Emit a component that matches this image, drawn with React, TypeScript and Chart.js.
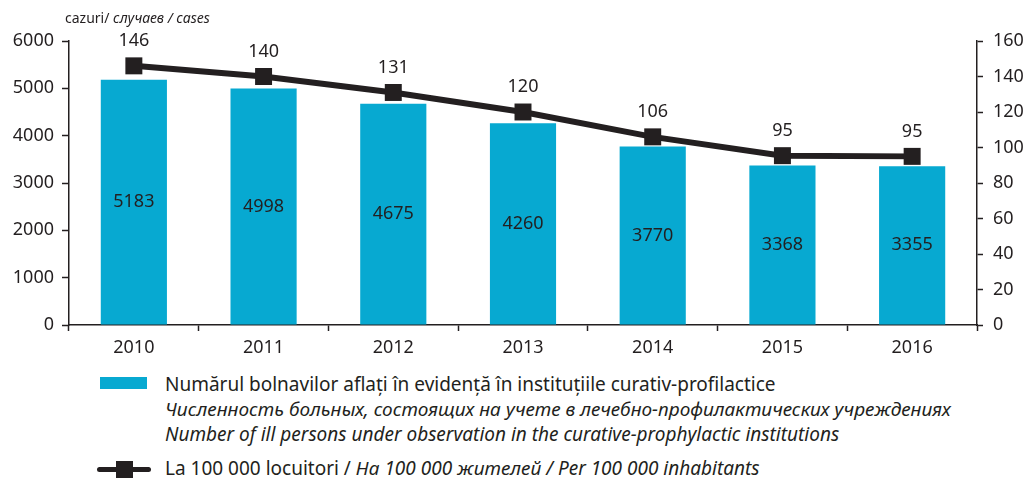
import React, { useEffect, useRef } from "react";
import { Chart, registerables } from "chart.js";

Chart.register(...registerables);

const years = ["2010", "2011", "2012", "2013", "2014", "2015", "2016"];
const patients = [5183, 4998, 4675, 4260, 3770, 3368, 3355];
const per100k = [146, 140, 131, 120, 106, 95.4, 95];
const leftTicks = [0, 1000, 2000, 3000, 4000, 5000, 6000];
const rightTicks = [0, 20, 40, 60, 80, 100, 120, 140, 160];

const FONT = "'Noto Sans', sans-serif";
const INK = "#231f20";
const BLUE = "#07a9d1";

const labelPlugin = {
  id: "valueLabels",
  afterDatasetsDraw(chart: any) {
    const ctx = chart.ctx;
    ctx.save();
    ctx.fillStyle = INK;
    ctx.font = `18px ${FONT}`;
    ctx.textAlign = "center";
    ctx.textBaseline = "middle";
    const barMeta = chart.getDatasetMeta(0);
    barMeta.data.forEach((el: any, i: number) => {
      const mid = (el.y + el.base) / 2;
      ctx.fillText(String(patients[i]), el.x, mid);
    });
    const lineMeta = chart.getDatasetMeta(1);
    lineMeta.data.forEach((el: any, i: number) => {
      ctx.fillText(String(Math.round(per100k[i])), el.x, el.y - 25);
    });
    ctx.restore();
  },
};

export default function App() {
  const ref = useRef<HTMLCanvasElement | null>(null);
  useEffect(() => {
    document.body.style.margin = "0";
    if (!ref.current) return;
    const chart = new Chart(ref.current, {
      type: "bar",
      data: {
        labels: years,
        datasets: [
          {
            type: "bar",
            data: patients,
            backgroundColor: BLUE,
            yAxisID: "y",
            categoryPercentage: 1,
            barPercentage: 0.51,
            order: 2,
          },
          {
            type: "line",
            data: per100k,
            yAxisID: "y2",
            borderColor: INK,
            borderWidth: 6,
            pointStyle: "rect",
            pointRadius: 12,
            pointBackgroundColor: INK,
            pointBorderColor: INK,
            pointBorderWidth: 0,
            tension: 0,
            order: 1,
          } as any,
        ],
      },
      options: {
        animation: false,
        responsive: false,
        maintainAspectRatio: false,
        layout: { padding: { top: 41, left: 0, right: 0, bottom: 0 } },
        plugins: { legend: { display: false }, tooltip: { enabled: false } },
        scales: {
          x: {
            grid: {
              offset: true,
              drawOnChartArea: false,
              drawTicks: true,
              tickLength: 6,
              tickColor: INK,
              tickWidth: 1.5,
            },
            border: { display: true, color: INK, width: 1.5 },
            ticks: { color: INK, font: { family: FONT, size: 18 }, padding: 6 },
            afterFit(s: any) {
              s.height = 40;
            },
          },
          y: {
            position: "left",
            min: 0,
            max: 6000,
            afterBuildTicks(s: any) {
              s.ticks = leftTicks.map((v) => ({ value: v }));
            },
            grid: {
              drawOnChartArea: false,
              drawTicks: true,
              tickLength: 7,
              tickColor: INK,
              tickWidth: 1.5,
            },
            border: { display: true, color: INK, width: 1.5 },
            ticks: {
              color: INK,
              font: { family: FONT, size: 18 },
              padding: 8,
              callback: (v: any) => String(v),
            },
            afterFit(s: any) {
              s.width = 69;
            },
          },
          y2: {
            position: "right",
            min: 0,
            max: 160,
            afterBuildTicks(s: any) {
              s.ticks = rightTicks.map((v) => ({ value: v }));
            },
            grid: {
              drawOnChartArea: false,
              drawTicks: true,
              tickLength: 6,
              tickColor: INK,
              tickWidth: 1.5,
            },
            border: { display: true, color: INK, width: 1.5 },
            ticks: {
              color: INK,
              font: { family: FONT, size: 18 },
              padding: 10,
              callback: (v: any) => String(v),
            },
            afterFit(s: any) {
              s.width = 55;
            },
          },
        },
      },
      plugins: [labelPlugin],
    });
    return () => chart.destroy();
  }, []);

  const legendText: React.CSSProperties = {
    position: "absolute",
    left: 165,
    fontFamily: FONT,
    fontSize: 19,
    color: INK,
    whiteSpace: "nowrap",
    lineHeight: "22px",
  };

  return (
    <div style={{ position: "relative", width: 1032, height: 479, background: "#fff" }}>
      <canvas ref={ref} width={1032} height={365} style={{ position: "absolute", left: 0, top: 0 }} />
      <div
        style={{
          position: "absolute",
          left: 65,
          top: 8,
          fontFamily: FONT,
          fontSize: 14,
          color: INK,
          whiteSpace: "nowrap",
        }}
      >
        cazuri/ <i>случаев / cases</i>
      </div>
      <div style={{ position: "absolute", left: 100, top: 377, width: 47, height: 12, background: BLUE }} />
      <div style={{ ...legendText, top: 373 }}>
        Numărul bolnavilor aflați în evidență în instituțiile curativ-profilactice
      </div>
      <div style={{ ...legendText, top: 398, fontStyle: "italic" }}>
        Численность больных, состоящих на учете в лечебно-профилактических учреждениях
      </div>
      <div style={{ ...legendText, top: 423, fontStyle: "italic" }}>
        Number of ill persons under observation in the curative-prophylactic institutions
      </div>
      <div style={{ position: "absolute", left: 97, top: 467, width: 54, height: 5, background: INK, borderRadius: 3 }} />
      <div style={{ position: "absolute", left: 116, top: 461, width: 17, height: 17, background: INK }} />
      <div style={{ ...legendText, top: 457 }}>
        La 100 000 locuitori / <i>На 100 000 жителей / Per 100 000 inhabitants</i>
      </div>
    </div>
  );
}
